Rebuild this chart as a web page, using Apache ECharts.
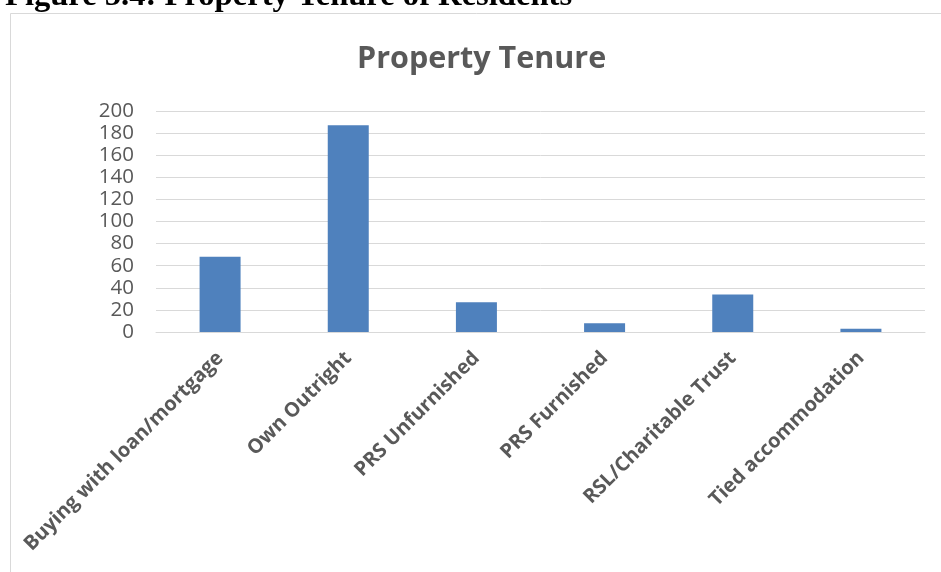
<!DOCTYPE html>
<html>
<head>
<meta charset="utf-8">
<script src="https://cdn.jsdelivr.net/npm/echarts@6/dist/echarts.min.js"></script>
<style>
  html, body { margin: 0; padding: 0; background: #fff; }
  #chart { width: 941px; height: 572px; }
</style>
</head>
<body>
<div id="chart"></div>
<script>
// Tenure categories and resident counts
const categories = [
  'Buying with loan/mortgage',
  'Own Outright',
  'PRS Unfurnished',
  'PRS Furnished',
  'RSL/Charitable Trust',
  'Tied accommodation'
];
const residents = [68, 187, 27, 8, 34, 3];
const yTicks = { min: 0, max: 200, interval: 20 };

const chart = echarts.init(document.getElementById('chart'), null, { renderer: 'canvas' });

chart.setOption({
  animation: false,
  backgroundColor: '#ffffff',
  graphic: [
    {
      type: 'rect',
      shape: { x: 10.5, y: 13.5, width: 960, height: 600 },
      style: { fill: 'none', stroke: '#d9d9d9', lineWidth: 1 },
      silent: true
    },
    {
      type: 'text',
      left: 5,
      top: -20,
      style: {
        text: 'Figure 5.4: Property Tenure of Residents',
        font: 'bold 32.6px "Liberation Serif", "Times New Roman", serif',
        fill: '#000000'
      },
      silent: true
    }
  ],
  title: {
    text: 'Property Tenure',
    left: 352,
    top: 39,
    textStyle: {
      fontFamily: '"Open Sans", sans-serif',
      fontWeight: 'bold',
      fontSize: 30.5,
      color: '#595959'
    }
  },
  grid: { left: 156, right: 16, top: 111, bottom: 240, containLabel: false },
  xAxis: {
    type: 'category',
    data: categories,
    axisLine: { show: true, lineStyle: { color: '#d9d9d9', width: 1 } },
    axisTick: { show: false },
    axisLabel: {
      interval: 0,
      rotate: 45,
      margin: 23,
      fontFamily: '"Open Sans", sans-serif',
      fontWeight: 'bold',
      fontSize: 20,
      color: '#595959'
    }
  },
  yAxis: {
    type: 'value',
    min: yTicks.min,
    max: yTicks.max,
    interval: yTicks.interval,
    axisLine: { show: false },
    axisTick: { show: false },
    splitLine: { lineStyle: { color: '#d9d9d9', width: 1 } },
    axisLabel: {
      margin: 22,
      fontFamily: '"Open Sans", sans-serif',
      fontSize: 20.5,
      color: '#595959'
    }
  },
  series: [
    {
      type: 'bar',
      data: residents,
      barWidth: 41,
      itemStyle: { color: '#4f81bd' }
    }
  ]
});
</script>
</body>
</html>
